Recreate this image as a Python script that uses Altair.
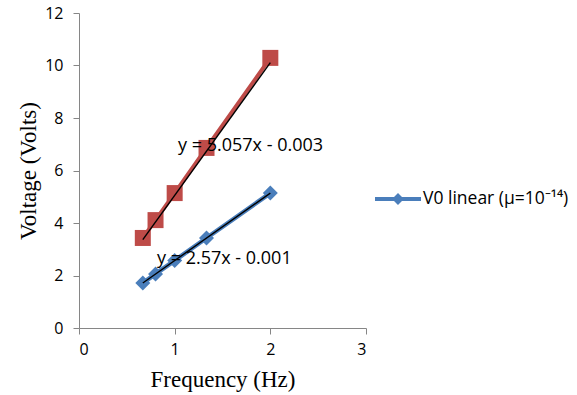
import altair as alt
import pandas as pd

# Measured points
freq = [0.667, 0.8, 1.0, 1.333, 2.0]
v0_linear = [1.71, 2.06, 2.57, 3.43, 5.14]
v_red = [3.43, 4.11, 5.14, 6.86, 10.29]

# Linear trendlines (slope, intercept) as labelled
fit_red = (5.057, -0.003)
fit_blue = (2.57, -0.001)
fit_x = [0.667, 2.0]

legend_name = "V0 linear (μ=10⁻¹⁴)"
blue = "#4A7EBB"
red = "#BE4B48"

df_blue = pd.DataFrame({"f": freq, "v": v0_linear, "s": legend_name})
df_red = pd.DataFrame({"f": freq, "v": v_red})
df_fit = pd.DataFrame(
    [{"f": x, "v": fit_red[0] * x + fit_red[1], "g": "red"} for x in fit_x]
    + [{"f": x, "v": fit_blue[0] * x + fit_blue[1], "g": "blue"} for x in fit_x]
)
df_lab = pd.DataFrame({
    "f": [1.035, 0.815],
    "v": [6.93, 2.63],
    "t": ["y = 5.057x - 0.003", "y = 2.57x - 0.001"],
})

xs = alt.X("f:Q", scale=alt.Scale(domain=[0, 3], nice=False),
           axis=alt.Axis(values=[0, 1, 2, 3], format="d", title="Frequency (Hz)"))
ys = alt.Y("v:Q", scale=alt.Scale(domain=[0, 12], nice=False),
           axis=alt.Axis(values=[0, 2, 4, 6, 8, 10, 12], format="d", title="Voltage (Volts)"))

legend_symbol = ("M-1,-0.09 L1,-0.09 L1,0.09 L-1,0.09 Z "
                 "M-0.26,0 L0,-0.26 L0.26,0 L0,0.26 Z")

color_enc = alt.Color(
    "s:N",
    scale=alt.Scale(domain=[legend_name], range=[blue]),
    legend=alt.Legend(
        title=None, orient="none", legendX=296, legendY=163,
        symbolType=legend_symbol, symbolSize=2116,
        symbolFillColor=blue, symbolStrokeColor=blue, symbolStrokeWidth=0,
        labelFont="Open Sans", labelFontSize=17.5, labelColor="#000000",
        labelOffset=2, padding=0, labelLimit=300,
    ),
)

red_line = alt.Chart(df_red).mark_line(color=red, strokeWidth=4).encode(x=xs, y=ys)
red_pts = alt.Chart(df_red).mark_point(
    shape="square", filled=True, size=256, color=red, opacity=1
).encode(x="f:Q", y="v:Q")

blue_line = alt.Chart(df_blue).mark_line(strokeWidth=4.5).encode(
    x="f:Q", y="v:Q", color=color_enc
)
blue_pts = alt.Chart(df_blue).mark_point(
    shape="diamond", filled=True, size=225, opacity=1
).encode(x="f:Q", y="v:Q", color=color_enc)

fits = alt.Chart(df_fit).mark_line(color="#000000", strokeWidth=1.4).encode(
    x="f:Q", y="v:Q", detail="g:N"
)

labels = alt.Chart(df_lab).mark_text(
    align="left", baseline="middle", font="Open Sans", fontSize=18, color="#000000"
).encode(x="f:Q", y="v:Q", text="t:N")

chart = alt.layer(red_line, blue_line, red_pts, blue_pts, fits, labels).properties(
    width=287, height=315,
    autosize=alt.AutoSizeParams(type="none"),
    padding={"left": 79, "top": 13, "right": 211, "bottom": 67},
    background="#ffffff",
).configure_view(stroke=None).configure_axis(
    grid=False, domainColor="#868686", tickColor="#868686", tickSize=6,
    labelFont="Open Sans", labelFontSize=16, labelColor="#000000",
    titleFont="Liberation Serif", titleFontSize=23, titleFontWeight="normal",
    titleColor="#000000",
).configure_axisX(labelPadding=7, titlePadding=11).configure_axisY(
    labelPadding=10, titlePadding=4
)

chart.save("out.html", embed_options={"renderer": "svg", "actions": False})
